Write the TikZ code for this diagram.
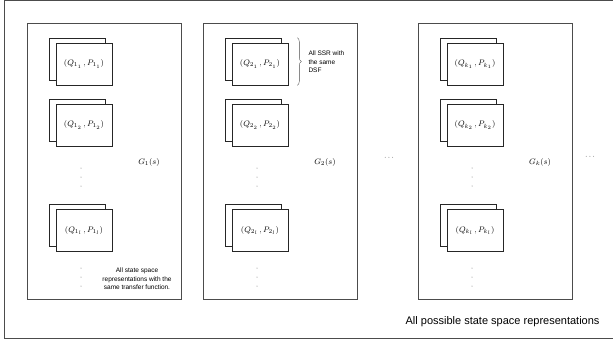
\documentclass[tikz,border=0pt]{standalone}
\usepackage{fontspec}
\setsansfont{Liberation Sans}
\usetikzlibrary{calc, decorations.pathreplacing}

\definecolor{linegray}{gray}{0.3}
\definecolor{dotgray}{gray}{0.45}

\tikzset{
  group/.style={draw=linegray, line width=0.7pt, minimum width=154pt, minimum height=276pt, inner sep=0pt},
  card/.style={draw=black!85, fill=white, line width=0.6pt, minimum width=56pt, minimum height=42pt, inner sep=0pt,
    font=\fontsize{8.5}{10}\selectfont},
  tflabel/.style={font=\fontsize{8.5}{10}\selectfont},
  note/.style={font=\fontsize{6.5}{8.5}\selectfont\sffamily, align=center},
}

\begin{document}
\begin{tikzpicture}[x=1pt,y=-1pt]
\useasboundingbox (0,0) rectangle (613,346);
% outer frame, its right side runs off the page
\draw[linegray, line width=0.7pt] (4,0.5) rectangle (620,338);

% one group per transfer function, three stacked cards in each
\foreach \gi/\cx/\gs in {1/104/1, 2/280/2, 3/495/k}{
  \node[group] (g\gi) at (\cx,161) {};
  \node[tflabel] (tf\gi) at (\cx+45,162) {$G_{\gs}(s)$};
  \foreach \row/\ycard/\sub in {1/64/1, 2/125/2, 3/230.5/l}{
    \node[card] (b\gi\row) at (\cx-26.5,\ycard-5) {};
    \node[card] (c\gi\row) at (\cx-20,\ycard) {$(Q_{\gs_{\sub}}\,,P_{\gs_{\sub}})$};
  }
  % vertical dots
  \foreach \d in {0,9,18}{
    \fill[dotgray] (\cx-23,168+\d) circle (0.5);
    \fill[dotgray] (\cx-23,268+\d) circle (0.5);
  }
}

\node (hd1) at (389,158) {\fontsize{7}{7}\selectfont$\cdots$};
\node (hd2) at (590,157) {\fontsize{7}{7}\selectfont$\cdots$};

\draw[linegray, decorate, decoration={brace, amplitude=4pt}]
  ($(c21.east |- b21.north)+(9,0)$) -- ($(c21.south east)+(9,0)$);
\node[note, align=left, anchor=west] (dsf) at (305,62) {All SSR with\\the same\\DSF};

\node[note] (tfnote) at (137,279) {All state space\\representations with the\\same transfer function.};

\node[font=\fontsize{11}{13}\selectfont\sffamily, anchor=east] (all) at (603,322) {All possible state space representations};
\end{tikzpicture}
\end{document}
